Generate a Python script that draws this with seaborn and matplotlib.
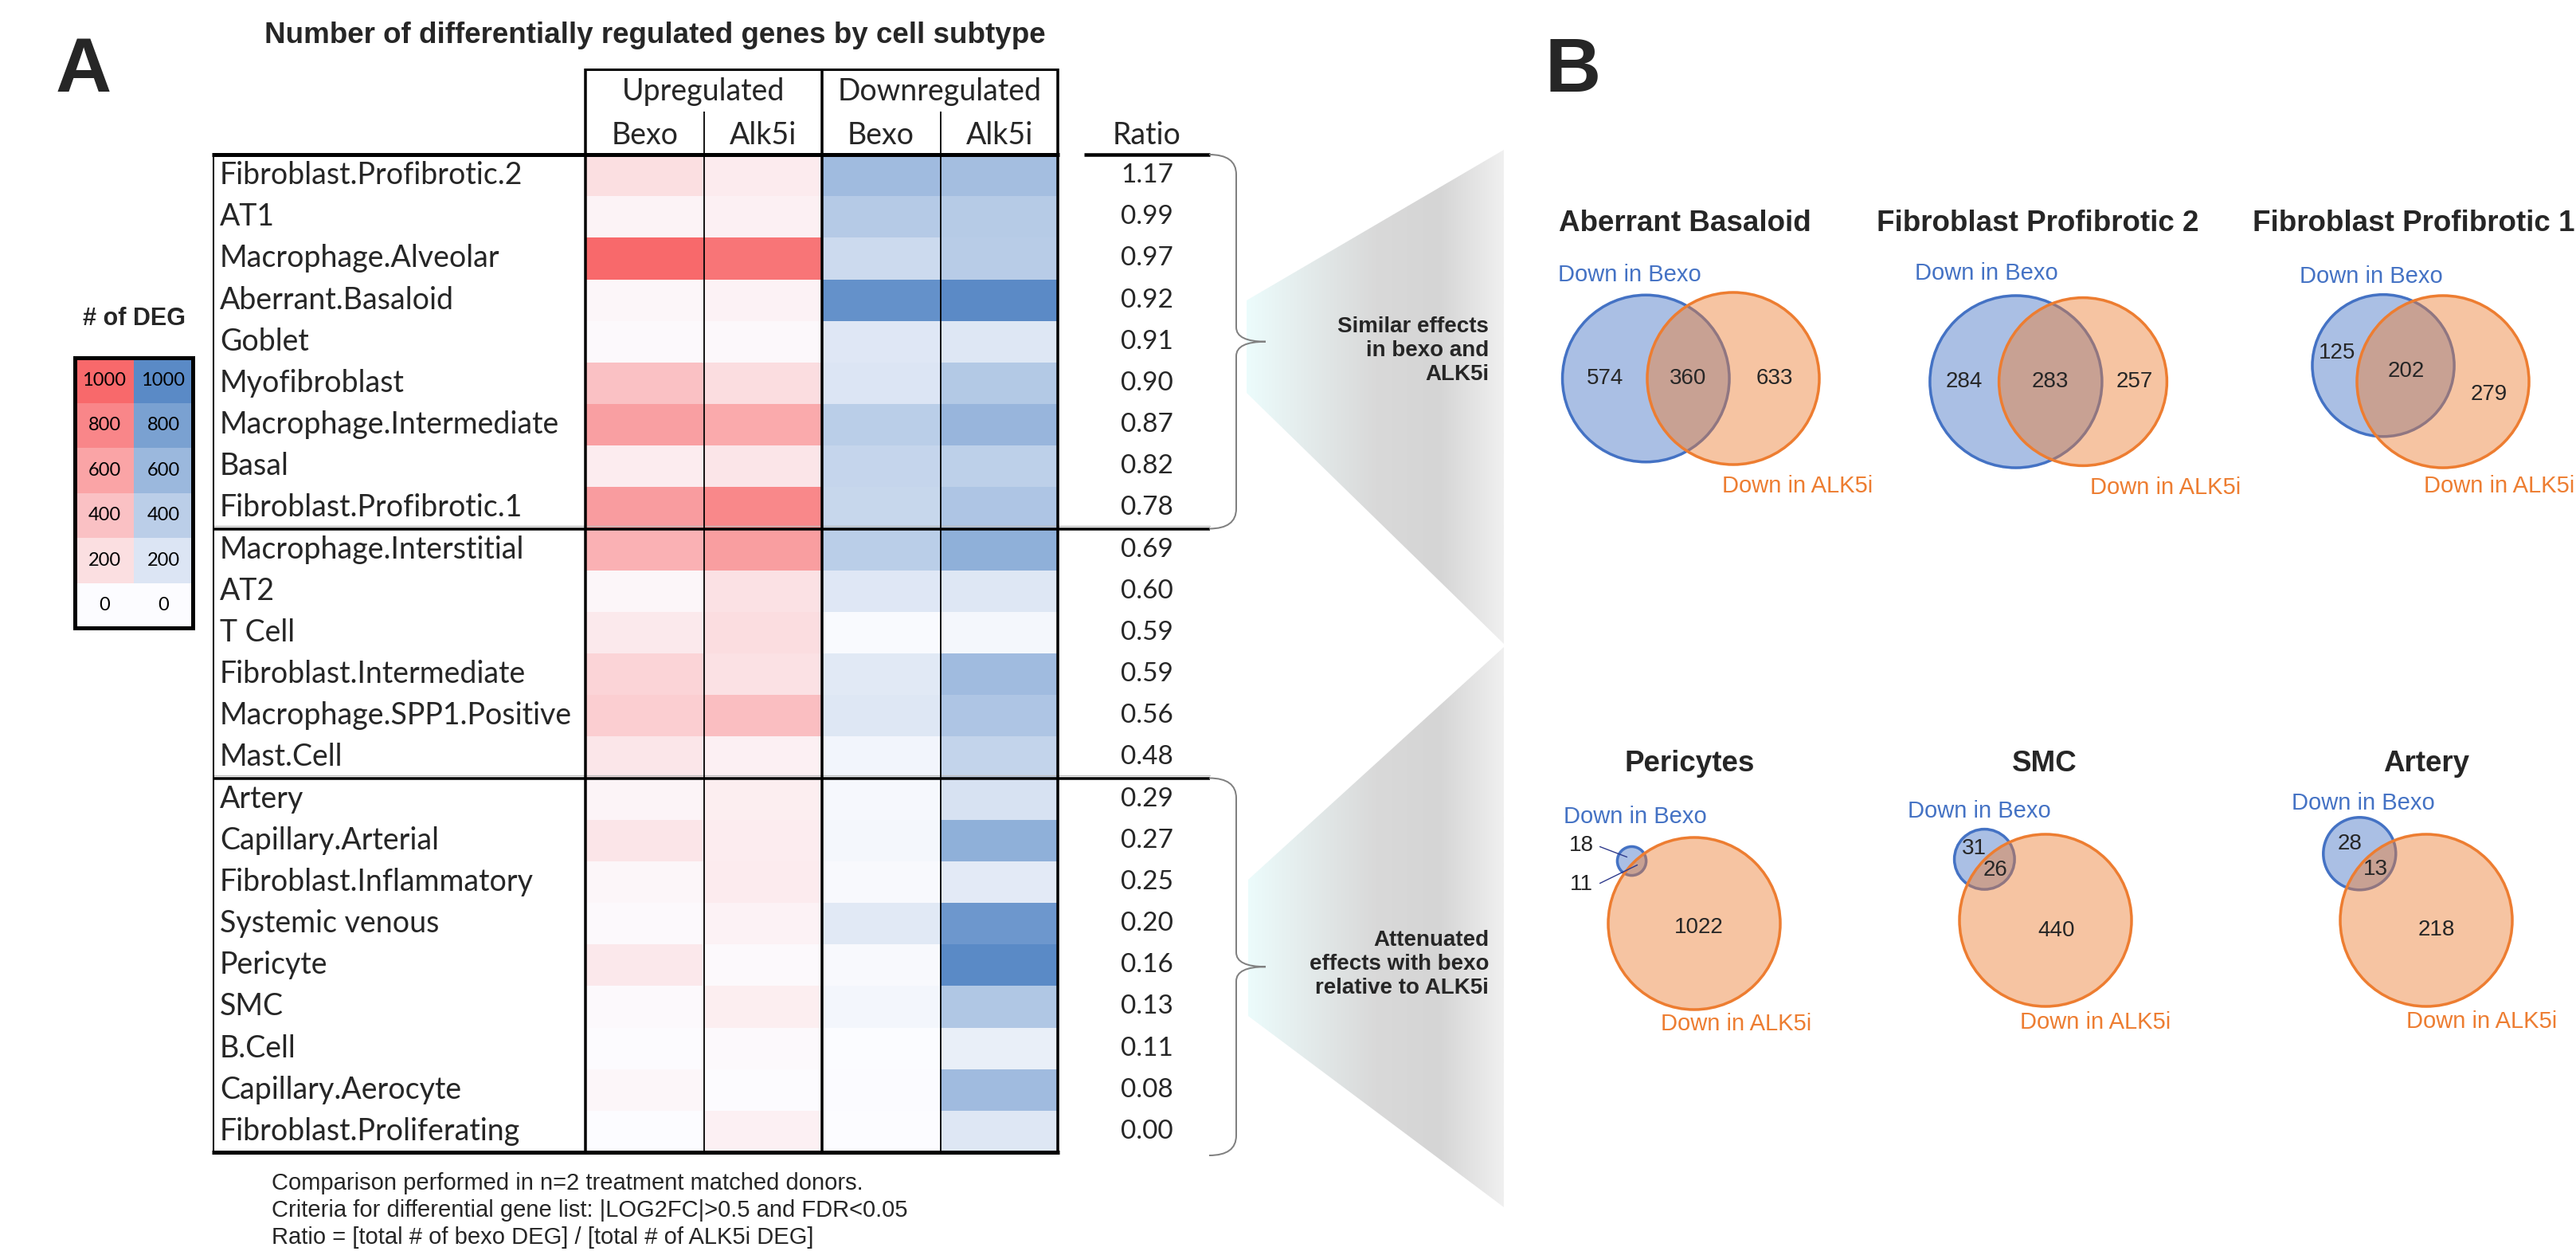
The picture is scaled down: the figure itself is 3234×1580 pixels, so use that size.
import numpy as np
import pandas as pd
import matplotlib
matplotlib.use("Agg")
import matplotlib.pyplot as plt
from matplotlib.colors import LinearSegmentedColormap
from matplotlib.patches import Circle, Polygon, Rectangle, PathPatch
from matplotlib.path import Path
import seaborn as sns

sns.set_theme(style="white")
plt.rcParams['font.family'] = ['Liberation Sans', 'DejaVu Sans']

# ---- panel A data ----
cell_types = ['Fibroblast.Profibrotic.2', 'AT1', 'Macrophage.Alveolar', 'Aberrant.Basaloid',
              'Goblet', 'Myofibroblast', 'Macrophage.Intermediate', 'Basal',
              'Fibroblast.Profibrotic.1', 'Macrophage.Interstitial', 'AT2', 'T Cell',
              'Fibroblast.Intermediate', 'Macrophage.SPP1.Positive', 'Mast.Cell', 'Artery',
              'Capillary.Arterial', 'Fibroblast.Inflammatory', 'Systemic venous', 'Pericyte',
              'SMC', 'B.Cell', 'Capillary.Aerocyte', 'Fibroblast.Proliferating']
up_bexo = [200, 60, 1000, 40, 20, 400, 630, 110, 650, 510, 40, 130,
           270, 310, 150, 55, 160, 40, 20, 140, 20, 10, 40, 0]
up_alk5i = [120, 80, 920, 70, 30, 210, 560, 160, 790, 640, 180, 210,
            180, 420, 80, 100, 110, 120, 70, 20, 100, 20, 10, 80]
down_bexo = [567, 440, 300, 934, 180, 200, 410, 340, 327, 410, 180, 20,
             170, 190, 60, 41, 50, 30, 170, 29, 57, 5, 10, 0]
down_alk5i = [540, 430, 420, 993, 190, 450, 620, 390, 481, 670, 190, 50,
              570, 480, 350, 231, 670, 160, 880, 1033, 466, 120, 570, 190]
ratio_labels = ['1.17', '0.99', '0.97', '0.92', '0.91', '0.90', '0.87', '0.82', '0.78',
                '0.69', '0.60', '0.59', '0.59', '0.56', '0.48', '0.29', '0.27', '0.25',
                '0.20', '0.16', '0.13', '0.11', '0.08', '0.00']
group_breaks = [9, 15]
col_names = ['Bexo', 'Alk5i', 'Bexo', 'Alk5i']
legend_levels = [1000, 800, 600, 400, 200, 0]
footnotes = ['Comparison performed in n=2 treatment matched donors.',
             'Criteria for differential gene list: |LOG2FC|>0.5 and FDR<0.05',
             'Ratio = [total # of bexo DEG] / [total # of ALK5i DEG]']

# ---- panel B data ----
venn_titles = ['Aberrant Basaloid', 'Fibroblast Profibrotic 2', 'Fibroblast Profibrotic 1',
               'Pericytes', 'SMC', 'Artery']
venn_bexo_only = [574, 284, 125, 18, 31, 28]
venn_shared = [360, 283, 202, 11, 26, 13]
venn_alk5i_only = [633, 257, 279, 1022, 440, 218]

W, H = 3234, 1580
BLUE, ORANGE = '#4472C4', '#ED7D31'
TABLE_FONT = ['Lato', 'DejaVu Sans']


def frac(x0, y0, x1, y1):
    return [x0 / W, 1 - y1 / H, (x1 - x0) / W, (y1 - y0) / H]


def px(v):
    return v * 72 / 100


fig = plt.figure(figsize=(W / 100, H / 100), dpi=100)

# ---- heatmap ----
red = LinearSegmentedColormap.from_list('reds', ['#FCFCFF', '#F8696B'])
blue = LinearSegmentedColormap.from_list('blues', ['#FCFCFF', '#5A8AC6'])
deg = pd.DataFrame({'up_bexo': up_bexo, 'up_alk5i': up_alk5i,
                    'down_bexo': down_bexo, 'down_alk5i': down_alk5i}, index=cell_types)
top, bottom = 194, 1446
row_h = (bottom - top) / len(cell_types)
axh = fig.add_axes(frac(735, top, 1328, bottom))
up_mask = np.zeros(deg.shape, dtype=bool)
up_mask[:, 2:] = True
sns.heatmap(deg, mask=up_mask, cmap=red, vmin=0, vmax=1000, cbar=False, ax=axh,
            xticklabels=False, yticklabels=False)
sns.heatmap(deg, mask=~up_mask, cmap=blue, vmin=0, vmax=1000, cbar=False, ax=axh,
            xticklabels=False, yticklabels=False)
axh.set_xlabel('')
axh.set_ylabel('')

# ---- legend ----
axl = fig.add_axes(frac(94, 449, 242, 788))
leg = pd.DataFrame({'up': legend_levels, 'down': legend_levels})
leg_mask = np.zeros(leg.shape, dtype=bool)
leg_mask[:, 1] = True
kws = dict(annot=True, fmt='d', cbar=False, vmin=0, vmax=1000, ax=axl,
           xticklabels=False, yticklabels=False,
           annot_kws={'color': 'black', 'fontsize': 17, 'family': TABLE_FONT})
sns.heatmap(leg, mask=leg_mask, cmap=red, **kws)
sns.heatmap(leg, mask=~leg_mask, cmap=blue, **kws)
axl.set_xlabel('')
axl.set_ylabel('')

# ---- overlay for text, lines and venns ----
ax = fig.add_axes([0, 0, 1, 1])
ax.patch.set_alpha(0)
ax.set_xlim(0, W)
ax.set_ylim(H, 0)

# gradient call-out shapes
grad = np.linspace(0, 1, 256).reshape(1, -1)
gcmap = LinearSegmentedColormap.from_list('fade', ['#ECFCFC', '#E3EAEA', '#D9D9D9',
                                                   '#D5D5D5', '#F0F0F0'])
shapes = [[(1565, 377), (1888, 188), (1888, 808), (1565, 493)],
          [(1567, 1104), (1888, 812), (1888, 1515), (1567, 1275)]]
for poly in shapes:
    im = ax.imshow(grad, extent=(1565, 1888, 1520, 180), cmap=gcmap, aspect='auto', zorder=0)
    clip = Polygon(poly, closed=True, facecolor='none', edgecolor='none')
    ax.add_patch(clip)
    im.set_clip_path(clip)

# panel letters and titles
ax.text(105, 90, 'A', fontsize=70, fontweight='bold', ha='center', va='center')
ax.text(1975, 90, 'B', fontsize=70, fontweight='bold', ha='center', va='center')
ax.text(822, 45, 'Number of differentially regulated genes by cell subtype',
        fontsize=26.5, fontweight='bold', ha='center', va='center')
ax.text(168, 400, '# of DEG', fontsize=22, fontweight='bold', ha='center', va='center')
ax.add_patch(Rectangle((94, 449), 148, 339, fill=False, edgecolor='black', lw=px(5), zorder=5))

# table header
ax.text(883, 115, 'Upregulated', fontsize=27, family=TABLE_FONT, ha='center', va='center')
ax.text(1180, 115, 'Downregulated', fontsize=27, family=TABLE_FONT, ha='center', va='center')
col_x = [810, 958, 1106, 1255]
for x, name in zip(col_x, col_names):
    ax.text(x, 170, name, fontsize=27, family=TABLE_FONT, ha='center', va='center')
ax.text(1440, 170, 'Ratio', fontsize=27, family=TABLE_FONT, ha='center', va='center')

# table rows
for i, (name, ratio) in enumerate(zip(cell_types, ratio_labels)):
    yc = top + row_h * (i + 0.5)
    ax.text(276, yc, name, fontsize=27, family=TABLE_FONT, ha='left', va='center')
    ax.text(1440, yc, ratio, fontsize=24, family=TABLE_FONT, ha='center', va='center')

# table lines
lk = dict(color='black', solid_capstyle='butt', zorder=6)
ax.plot([735, 1328], [87, 87], lw=px(3), **lk)
for x in [735, 1032, 1328]:
    ax.plot([x, x], [86, bottom], lw=px(3.5), **lk)
for x in [884, 1181]:
    ax.plot([x, x], [140, bottom], lw=px(1.8), **lk)
ax.plot([268, 268], [top, bottom], lw=px(2), **lk)
ax.plot([266, 1330], [top, top], lw=px(5), **lk)
ax.plot([266, 1330], [bottom, bottom], lw=px(5), **lk)
ax.plot([1361, 1519], [top, top], lw=px(4.5), **lk)
for b in group_breaks:
    yb = top + row_h * b
    ax.plot([268, 1519], [yb, yb], lw=px(3.5), **lk)
    ax.plot([268, 1519], [yb - 4, yb - 4], lw=px(1.2), color='#BBBBBB', zorder=5)


def brace(y0, y1, xs=1518, xb=1552, xt=1589):
    ym = (y0 + y1) / 2
    verts = [(xs, y0), (xb, y0), (xb, y0 + 25),
             (xb, ym - 18), (xb, ym), (xt, ym),
             (xb, ym), (xb, ym + 18),
             (xb, y1 - 25), (xb, y1), (xs, y1)]
    codes = [Path.MOVETO, Path.CURVE3, Path.CURVE3,
             Path.LINETO, Path.CURVE3, Path.CURVE3,
             Path.CURVE3, Path.CURVE3,
             Path.LINETO, Path.CURVE3, Path.CURVE3]
    ax.add_patch(PathPatch(Path(verts, codes), fill=False, edgecolor='#808080', lw=px(2), zorder=6))


brace(top, top + row_h * group_breaks[0])
brace(top + row_h * group_breaks[1], bottom + 4)

ax.text(1869, 440, 'Similar effects\nin bexo and\nALK5i', fontsize=20, fontweight='bold',
        ha='right', va='center', linespacing=1.22)
ax.text(1869, 1210, 'Attenuated\neffects with bexo\nrelative to ALK5i', fontsize=20,
        fontweight='bold', ha='right', va='center', linespacing=1.22)

for k, line in enumerate(footnotes):
    ax.text(341, 1485 + 34 * k, line, fontsize=21, ha='left', va='center')


# ---- venn diagrams ----
def lens_area(r1, r2, d):
    if d >= r1 + r2:
        return 0.0
    if d <= abs(r1 - r2):
        return np.pi * min(r1, r2) ** 2
    a1 = r1 ** 2 * np.arccos((d ** 2 + r1 ** 2 - r2 ** 2) / (2 * d * r1))
    a2 = r2 ** 2 * np.arccos((d ** 2 + r2 ** 2 - r1 ** 2) / (2 * d * r2))
    a3 = 0.5 * np.sqrt((-d + r1 + r2) * (d + r1 - r2) * (d - r1 + r2) * (d + r1 + r2))
    return a1 + a2 - a3


def centre_distance(r1, r2, target):
    lo, hi = abs(r1 - r2) + 1e-6, r1 + r2
    for _ in range(60):
        mid = (lo + hi) / 2
        if lens_area(r1, r2, mid) > target:
            lo = mid
        else:
            hi = mid
    return (lo + hi) / 2


renderer = fig.canvas.get_renderer()


def fit_text(x, y, s, ha, **kw):
    # keep text inside the right edge of the figure
    t = ax.text(x, y, s, ha=ha, va='center', **kw)
    bb = t.get_window_extent(renderer)
    if bb.x1 > W - 2:
        t.set_position((x - (bb.x1 - (W - 2)), y))
    return t


R_BIG = 108
anchors = [(2176, 475), (2615, 479), (3067, 479), (2127, 1159), (2568, 1155), (3046, 1155)]
directions = [(-1, 0), (-1, 0), (-74, -20), (-1, -1), (-1, -1), (-1, -1)]
title_pos = [(2115, 280), (2558, 280), (3030, 280), (2121, 959), (2567, 959), (3046, 959)]
bexo_lab = [(1956, 345), (2404, 343), (2887, 347), (1963, 1025), (2395, 1018), (2877, 1008)]
alk_lab = [(2162, 610), (2624, 612), (3070, 610), (2085, 1285), (2536, 1283), (3021, 1282)]

for i, title in enumerate(venn_titles):
    nb = venn_bexo_only[i] + venn_shared[i]
    na = venn_alk5i_only[i] + venn_shared[i]
    scale = np.pi * R_BIG ** 2 / max(nb, na)
    rb = np.sqrt(nb * scale / np.pi)
    ra = np.sqrt(na * scale / np.pi)
    d = centre_distance(rb, ra, venn_shared[i] * scale)
    ca = np.array(anchors[i], dtype=float)
    v = np.array(directions[i], dtype=float)
    v /= np.linalg.norm(v)
    cb = ca + d * v
    u = -v
    ax.add_patch(Circle(cb, rb, facecolor=(0.267, 0.447, 0.769, 0.45), edgecolor=BLUE,
                        lw=px(3.5), zorder=3))
    ax.add_patch(Circle(ca, ra, facecolor=(0.929, 0.490, 0.192, 0.45), edgecolor=ORANGE,
                        lw=px(3.5), zorder=4))
    b_far, b_near = cb - rb * u, cb + rb * u
    a_near, a_far = ca - ra * u, ca + ra * u
    p_b = (b_far + a_near) / 2
    p_s = (a_near + b_near) / 2
    p_a = (b_near + a_far) / 2
    nk = dict(fontsize=20, ha='center', va='center', zorder=7)
    if title == 'Pericytes':
        lb = cb + np.array([-63, -20])
        ls = cb + np.array([-63, 29])
        ax.text(*lb, str(venn_bexo_only[i]), **nk)
        ax.text(*ls, str(venn_shared[i]), **nk)
        ax.plot([lb[0] + 23, cb[0] - 6], [lb[1] + 2, cb[1] - 5], color='#2E3A8C', lw=1, zorder=7)
        ax.plot([ls[0] + 23, cb[0] + 7], [ls[1] - 1, cb[1] + 5], color='#2E3A8C', lw=1, zorder=7)
    else:
        ax.text(*p_b, str(venn_bexo_only[i]), **nk)
        ax.text(*p_s, str(venn_shared[i]), **nk)
    ax.text(*p_a, str(venn_alk5i_only[i]), **nk)
    fit_text(*title_pos[i], title, 'center', fontsize=26.5, fontweight='bold')
    ax.text(*bexo_lab[i], 'Down in Bexo', fontsize=21, color=BLUE, ha='left', va='center')
    fit_text(*alk_lab[i], 'Down in ALK5i', 'left', fontsize=21, color=ORANGE)

ax.set_xlim(0, W)
ax.set_ylim(H, 0)
ax.set_aspect('auto')
ax.axis('off')

fig.savefig('out.png', dpi=100)
